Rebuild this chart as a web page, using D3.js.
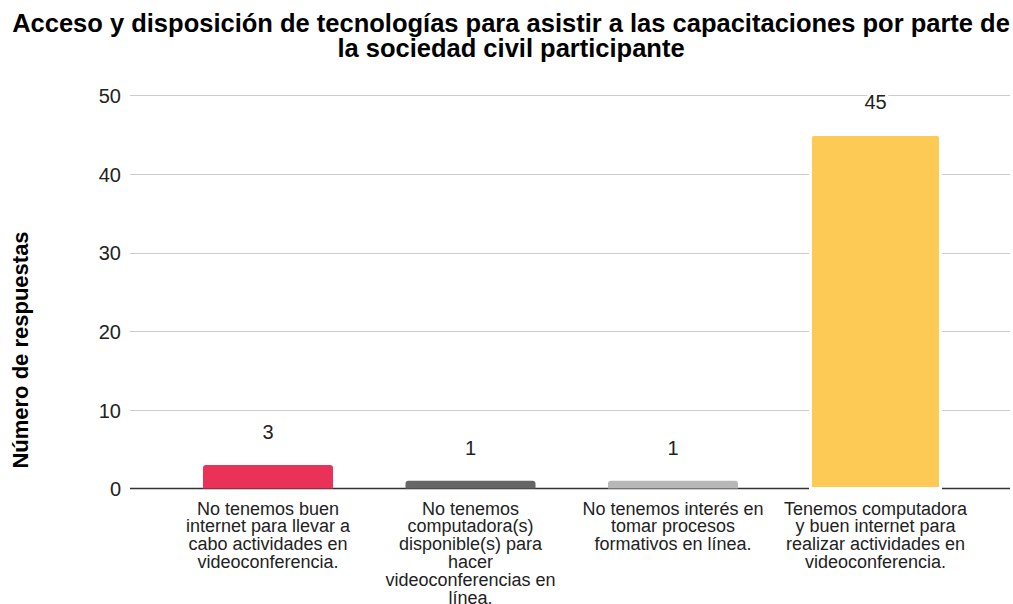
<!DOCTYPE html>
<html>
<head>
<meta charset="utf-8">
<script src="https://cdn.jsdelivr.net/npm/d3@7"></script>
<style>
  html, body { margin: 0; padding: 0; background: #fff; }
  svg { display: block; font-family: "Liberation Sans", Arial, sans-serif; }
</style>
</head>
<body>
<svg id="chart" width="1013" height="604"></svg>
<script>
// ---- data ----
const titleLines = [
  "Acceso y disposición de tecnologías para asistir a las capacitaciones por parte de",
  "la sociedad civil participante"
];
const yAxisTitle = "Número de respuestas";
const categories = [
  "No tenemos buen internet para llevar a cabo actividades en videoconferencia.",
  "No tenemos computadora(s) disponible(s) para hacer videoconferencias en línea.",
  "No tenemos interés en tomar procesos formativos en línea.",
  "Tenemos computadora y buen internet para realizar actividades en videoconferencia."
];
const values = [3, 1, 1, 45];
const barColors = ["#ea3157", "#666666", "#b7b7b7", "#fdca56"];
const yTicks = [0, 10, 20, 30, 40, 50];

// ---- layout ----
const svg = d3.select("#chart");
const plotLeft = 130, plotRight = 1010;
const y = d3.scaleLinear().domain([0, 50]).range([488.5, 95.3]);
const x = d3.scaleBand().domain(categories).range([166.75, 976.75])
  .paddingInner(0.358).paddingOuter(0.179);

// title
const title = svg.append("text")
  .attr("text-anchor", "middle")
  .attr("font-weight", "bold")
  .attr("font-size", 25.5)
  .attr("fill", "#000");
title.selectAll("tspan").data(titleLines).join("tspan")
  .attr("x", 511)
  .attr("y", (d, i) => 32 + i * 25)
  .text(d => d);

// gridlines
svg.append("g").selectAll("line").data(yTicks.filter(t => t !== 0)).join("line")
  .attr("x1", plotLeft).attr("x2", plotRight)
  .attr("y1", d => Math.round(y(d)) + 0.5).attr("y2", d => Math.round(y(d)) + 0.5)
  .attr("stroke", "#cccccc").attr("stroke-width", 1.2);

// y axis labels
const yAxis = d3.axisLeft(y).tickValues(yTicks).tickSize(0).tickPadding(0);
const yg = svg.append("g").attr("transform", `translate(121,0)`).call(yAxis);
yg.select(".domain").remove();
yg.selectAll("text")
  .attr("font-size", 20)
  .attr("font-family", "Liberation Sans, Arial, sans-serif")
  .attr("fill", "#222")
  .attr("dy", "0.36em");

// baseline
svg.append("line")
  .attr("x1", plotLeft).attr("x2", plotRight)
  .attr("y1", y(0)).attr("y2", y(0))
  .attr("stroke", "#333333").attr("stroke-width", 1.3);

// bars (rounded top corners)
function barPath(x0, w, yTop, yBot, r) {
  r = Math.min(r, (yBot - yTop), w / 2);
  return `M${x0},${yBot}V${yTop + r}Q${x0},${yTop} ${x0 + r},${yTop}H${x0 + w - r}Q${x0 + w},${yTop} ${x0 + w},${yTop + r}V${yBot}Z`;
}
const data = categories.map((c, i) => ({ c, v: values[i], color: barColors[i] }));
svg.append("g").selectAll("path").data(data).join("path")
  .attr("d", d => barPath(x(d.c), x.bandwidth(), y(d.v), y(0), 3))
  .attr("fill", d => d.color)
  .attr("stroke", "#fff").attr("stroke-width", d => d.v > 5 ? 3 : 0);

// value labels with white halo
svg.append("g").selectAll("text").data(data).join("text")
  .attr("x", d => x(d.c) + x.bandwidth() / 2)
  .attr("y", d => y(d.v) - 33 + 7)
  .attr("text-anchor", "middle")
  .attr("font-size", 20)
  .attr("fill", "#222")
  .attr("stroke", "#fff").attr("stroke-width", 6).attr("paint-order", "stroke")
  .text(d => d.v);

// x labels with wrapping
function wrapWords(text, maxW, measure) {
  const words = text.split(" ");
  const lines = [];
  let cur = "";
  words.forEach(w => {
    const t = cur ? cur + " " + w : w;
    if (measure(t) > maxW && cur) { lines.push(cur); cur = w; }
    else cur = t;
  });
  if (cur) lines.push(cur);
  return lines;
}
const measurer = svg.append("text").attr("font-size", 18).attr("visibility", "hidden");
const measure = s => { measurer.text(s); return measurer.node().getComputedTextLength(); };
const xl = svg.append("g");
data.forEach(d => {
  const lines = wrapWords(d.c, 188, measure);
  const t = xl.append("text")
    .attr("text-anchor", "middle")
    .attr("font-size", 18)
    .attr("fill", "#222");
  lines.forEach((ln, i) => {
    t.append("tspan")
      .attr("x", x(d.c) + x.bandwidth() / 2)
      .attr("y", 514.5 + i * 17.9)
      .text(ln);
  });
});
measurer.remove();

// y axis title
svg.append("text")
  .attr("transform", "translate(28,350) rotate(-90)")
  .attr("text-anchor", "middle")
  .attr("font-weight", "bold")
  .attr("font-size", 22)
  .attr("fill", "#000")
  .text(yAxisTitle);
</script>
</body>
</html>
